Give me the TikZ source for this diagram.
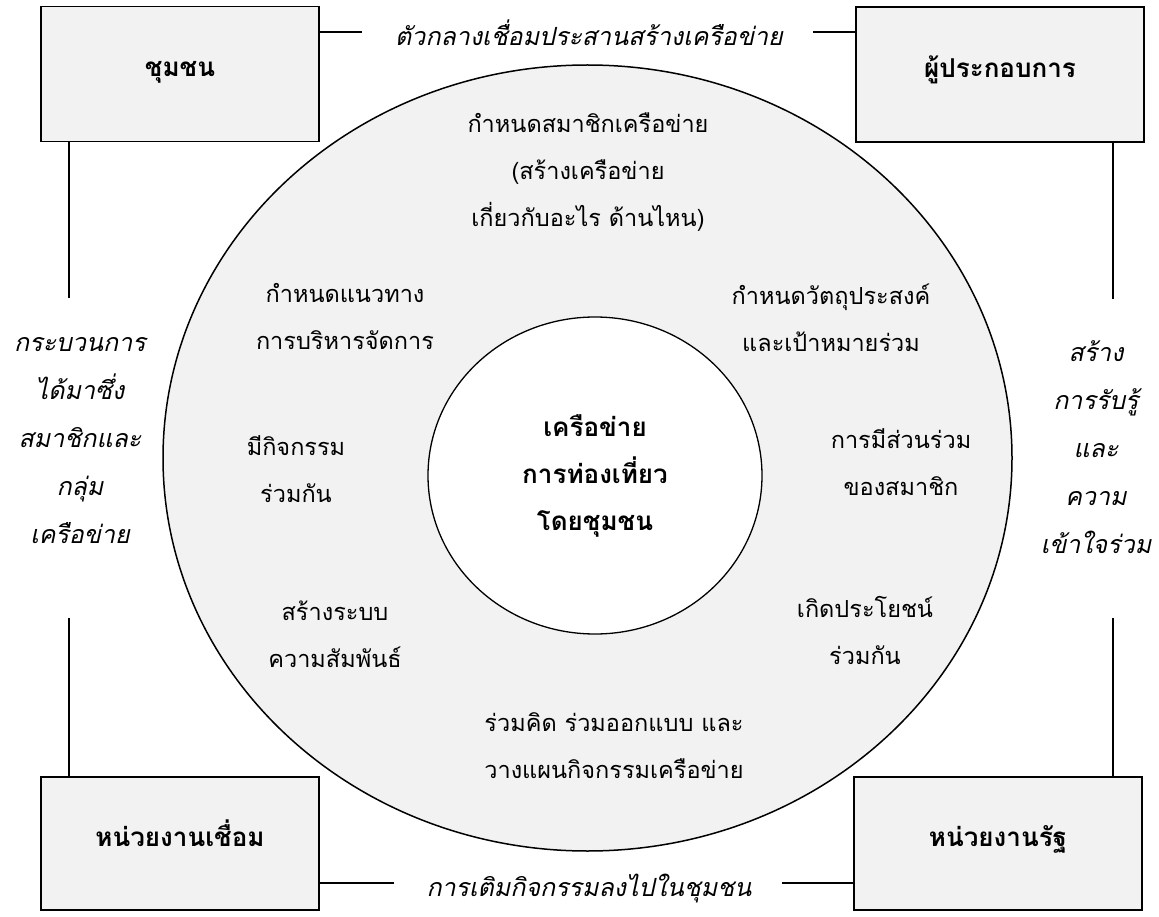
\documentclass[tikz,border=0pt]{standalone}
\usepackage{fontspec}
\usetikzlibrary{shapes.geometric}
\newfontfamily\thai[Script=Thai,BoldFont={Loma Bold},ItalicFont={Loma Oblique}]{Loma}
\definecolor{boxgray}{HTML}{F2F2F2}
\begin{document}
\begin{tikzpicture}[x=1pt,y=-1pt,
  box/.style={draw=black, line width=1.6pt, fill=boxgray, inner sep=0pt,
    text height=20pt, text depth=14pt,
    font=\thai\bfseries\fontsize{26}{32}\selectfont},
  lbl/.style={font=\thai\fontsize{23.5}{47}\selectfont, align=center, inner sep=0pt},
  clbl/.style={font=\thai\bfseries\fontsize{26}{47}\selectfont, align=center, inner sep=0pt},
  ilbl/.style={font=\thai\itshape\fontsize{25}{48}\selectfont, align=center, inner sep=0pt},
  conn/.style={draw=black, line width=1.6pt}]
\useasboundingbox (0,0) rectangle (1159,917);

% outer ring and inner circle
\node[ellipse, draw=black, line width=1.5pt, fill=boxgray, inner sep=0pt,
      minimum width=849pt, minimum height=786pt] (outer) at (587.5,458) {};
\node[ellipse, draw=black, line width=1.3pt, fill=white, inner sep=0pt,
      minimum width=334pt, minimum height=317pt, clbl] (inner) at (595,475.5)
      {เครือข่าย\\การท่องเที่ยว\\โดยชุมชน};

% four boxes
\node[box, minimum width=278pt, minimum height=135pt] (tl) at (180,74) {ชุมชน};
\node[box, minimum width=288pt, minimum height=135pt] (tr) at (1000,74.5) {ผู้ประกอบการ};
\node[box, minimum width=278pt, minimum height=133pt] (bl) at (180,843.5) {หน่วยงานเชื่อม};
\node[box, minimum width=288pt, minimum height=133pt] (br) at (998,843.5) {หน่วยงานรัฐ};

% connector labels
\node[ilbl] (toplab) at (589,33) {ตัวกลางเชื่อมประสานสร้างเครือข่าย};
\node[ilbl] (botlab) at (589,889) {การเติมกิจกรรมลงไปในชุมชน};
\node[ilbl] (leftlab) at (80,441) {กระบวนการ\\ได้มาซึ่ง\\สมาชิกและ\\กลุ่ม\\เครือข่าย};
\node[ilbl] (rightlab) at (1096,447) {สร้าง\\การรับรู้\\และ\\ความ\\เข้าใจร่วม};

% connector end points
\coordinate (t1) at (362,32);
\coordinate (t2) at (813,32);
\coordinate (b1) at (394,883);
\coordinate (b2) at (782,883);
\coordinate (l1) at (69,298);
\coordinate (l2) at (69,618);
\coordinate (r1) at (1113,299);
\coordinate (r2) at (1113,618);

\draw[conn] (tl.east |- t1) -- (t1);
\draw[conn] (t2) -- (tr.west |- t2);
\draw[conn] (bl.east |- b1) -- (b1);
\draw[conn] (b2) -- (br.west |- b2);
\draw[conn] (l1 |- tl.south) -- (l1);
\draw[conn] (l2) -- (l2 |- bl.north);
\draw[conn] (r1 |- tr.south) -- (r1);
\draw[conn] (r2) -- (r2 |- br.north);

% ring texts
\node[lbl] (n1) at (588,172) {กำหนดสมาชิกเครือข่าย\\(สร้างเครือข่าย\\เกี่ยวกับอะไร ด้านไหน)};
\node[lbl] (n2) at (345,316) {กำหนดแนวทาง\\การบริหารจัดการ};
\node[lbl] (n3) at (831,318) {กำหนดวัตถุประสงค์\\และเป้าหมายร่วม};
\node[lbl] (n4) at (296,469) {มีกิจกรรม\\ร่วมกัน};
\node[lbl] (n5) at (901,462) {การมีส่วนร่วม\\ของสมาชิก};
\node[lbl] (n6) at (335,634) {สร้างระบบ\\ความสัมพันธ์};
\node[lbl] (n7) at (865,630) {เกิดประโยชน์\\ร่วมกัน};
\node[lbl] (n8) at (614,746) {ร่วมคิด ร่วมออกแบบ และ\\วางแผนกิจกรรมเครือข่าย};
\end{tikzpicture}
\end{document}
